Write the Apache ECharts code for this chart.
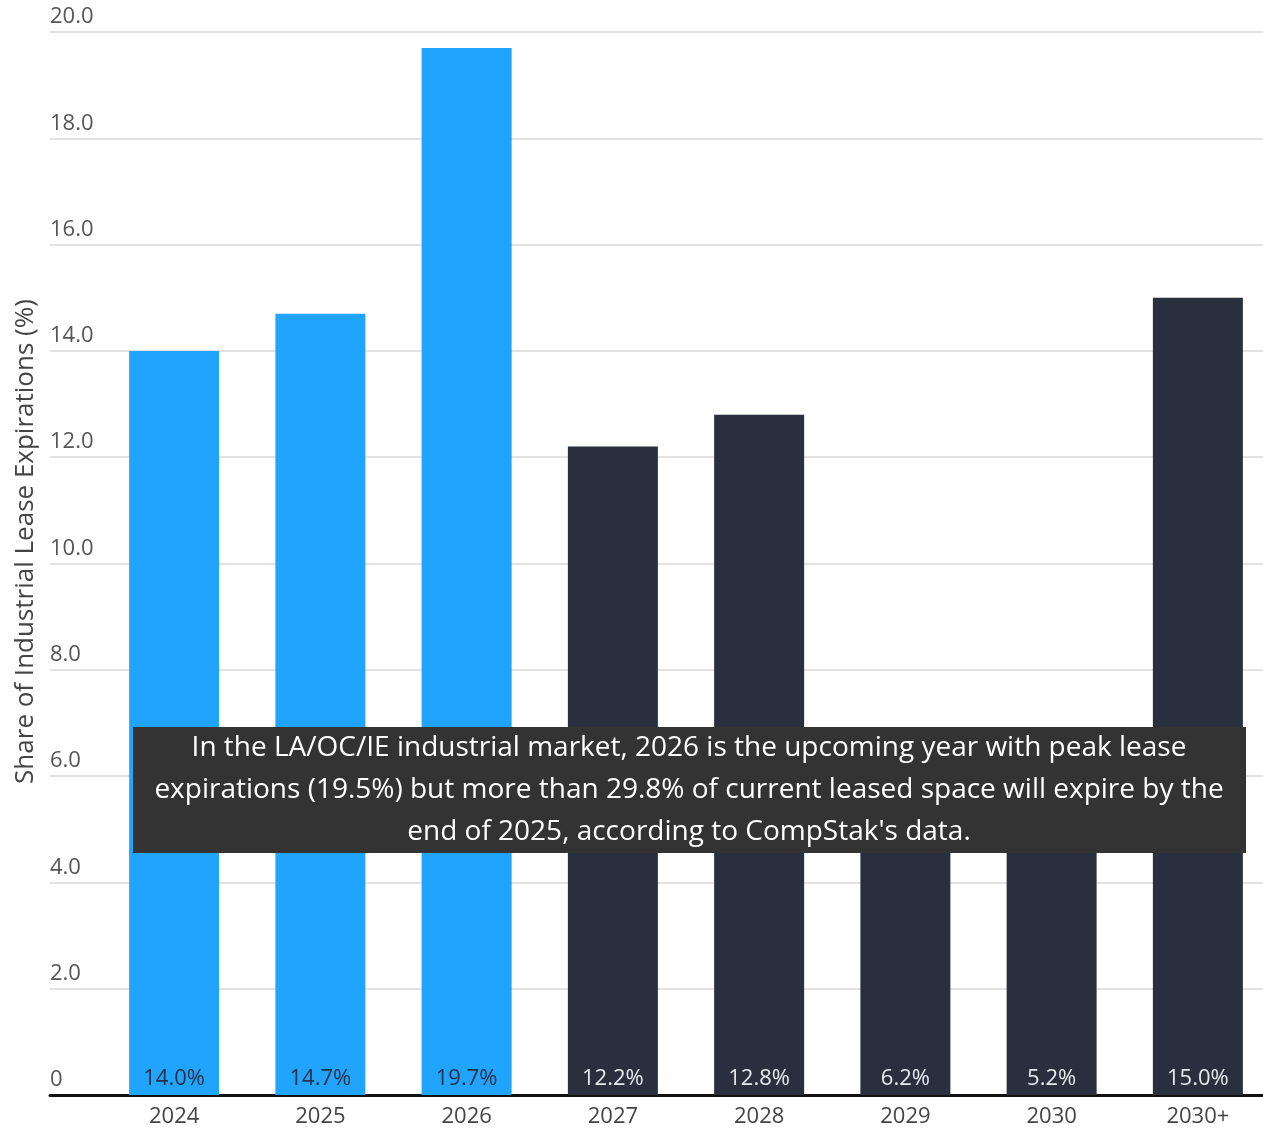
<!DOCTYPE html>
<html>
<head>
<meta charset="utf-8">
<script src="https://cdn.jsdelivr.net/npm/echarts@6/dist/echarts.min.js"></script>
<style>
  html, body { margin: 0; padding: 0; background: #fff; }
</style>
</head>
<body>
<div id="myChart" style="width: 1263px;height:1129px;"></div>
<script>
// data
const years = ["2024", "2025", "2026", "2027", "2028", "2029", "2030", "2030+"];
const shares = [14.0, 14.7, 19.7, 12.2, 12.8, 6.2, 5.2, 15.0];
const yTicks = [0, 2, 4, 6, 8, 10, 12, 14, 16, 18, 20];
const nearTermYears = ["2024", "2025", "2026"]; // the blue ones
const note = [
  "In the LA/OC/IE industrial market, 2026 is the upcoming year with peak lease",
  "expirations (19.5%) but more than 29.8% of current leased space will expire by the",
  "end of 2025, according to CompStak's data."
];

const BLUE = "#21a4fd";
const DARK = "#292f3d";
const FONT = "'Open Sans', sans-serif";

let myChart = echarts.init(document.getElementById("myChart"));

const barData = shares.map((v, i) => {
  const near = nearTermYears.includes(years[i]);
  return {
    value: v,
    itemStyle: { color: near ? BLUE : DARK },
    label: { color: near ? "#233146" : "#e6e9ee" }
  };
});

myChart.setOption({
  animation: false,
  backgroundColor: "#fff",
  grid: [
    // gridlines + axis line
    { left: 50, right: 0, top: 32, bottom: 34, containLabel: false, outerBoundsMode: "none" },
    // bars
    { left: 101, width: 1170, top: 32, bottom: 34, containLabel: false, outerBoundsMode: "none" }
  ],
  xAxis: [
    {
      type: "value",
      gridIndex: 0,
      min: 0,
      max: 1,
      axisLine: { show: true, onZero: false, lineStyle: { color: "#111", width: 3 } },
      axisTick: { show: false },
      axisLabel: { show: false },
      splitLine: { show: false }
    },
    {
      type: "category",
      gridIndex: 1,
      data: years,
      axisLine: { show: false },
      axisTick: { show: false },
      axisLabel: { margin: 11, fontSize: 22, color: "#444", fontFamily: FONT }
    }
  ],
  yAxis: [
    {
      type: "value",
      gridIndex: 0,
      min: yTicks[0],
      max: yTicks[yTicks.length - 1],
      interval: yTicks[1] - yTicks[0],
      name: "Share of Industrial Lease Expirations (%)",
      nameLocation: "middle",
      nameGap: 11,
      nameRotate: 90,
      nameTextStyle: { fontSize: 26, color: "#444", fontFamily: FONT, padding: [0, 0, 0, 44] },
      axisLine: { show: false },
      axisTick: { show: false },
      axisLabel: {
        inside: true,
        margin: 0,
        align: "left",
        verticalAlign: "bottom",
        padding: [0, 0, 4, 0],
        fontSize: 22,
        color: "#555",
        fontFamily: FONT,
        formatter: v => (v === 0 ? "0" : v.toFixed(1))
      },
      splitLine: { show: true, lineStyle: { color: "#e2e2e2", width: 2 } }
    },
    {
      type: "value",
      gridIndex: 1,
      min: yTicks[0],
      max: yTicks[yTicks.length - 1],
      show: false
    }
  ],
  series: [
    {
      type: "bar",
      xAxisIndex: 1,
      yAxisIndex: 1,
      barWidth: 90,
      data: barData,
      label: {
        show: true,
        position: "insideBottom",
        distance: 5,
        fontSize: 22,
        fontFamily: FONT,
        formatter: p => p.value.toFixed(1) + "%"
      }
    }
  ],
  graphic: [
    {
      type: "group",
      x: 133,
      y: 727,
      z: 100,
      children: [
        {
          type: "rect",
          z: 100,
          shape: { x: 0, y: 0, width: 1113, height: 126 },
          style: { fill: "#333333" }
        },
        {
          type: "text",
          z: 101,
          x: 556,
          y: 63,
          style: {
            text: note.join("\n"),
            fill: "#fff",
            font: "28px 'Open Sans', sans-serif",
            lineHeight: 42,
            align: "center",
            verticalAlign: "middle"
          }
        }
      ]
    }
  ]
});
</script>
</body>
</html>
